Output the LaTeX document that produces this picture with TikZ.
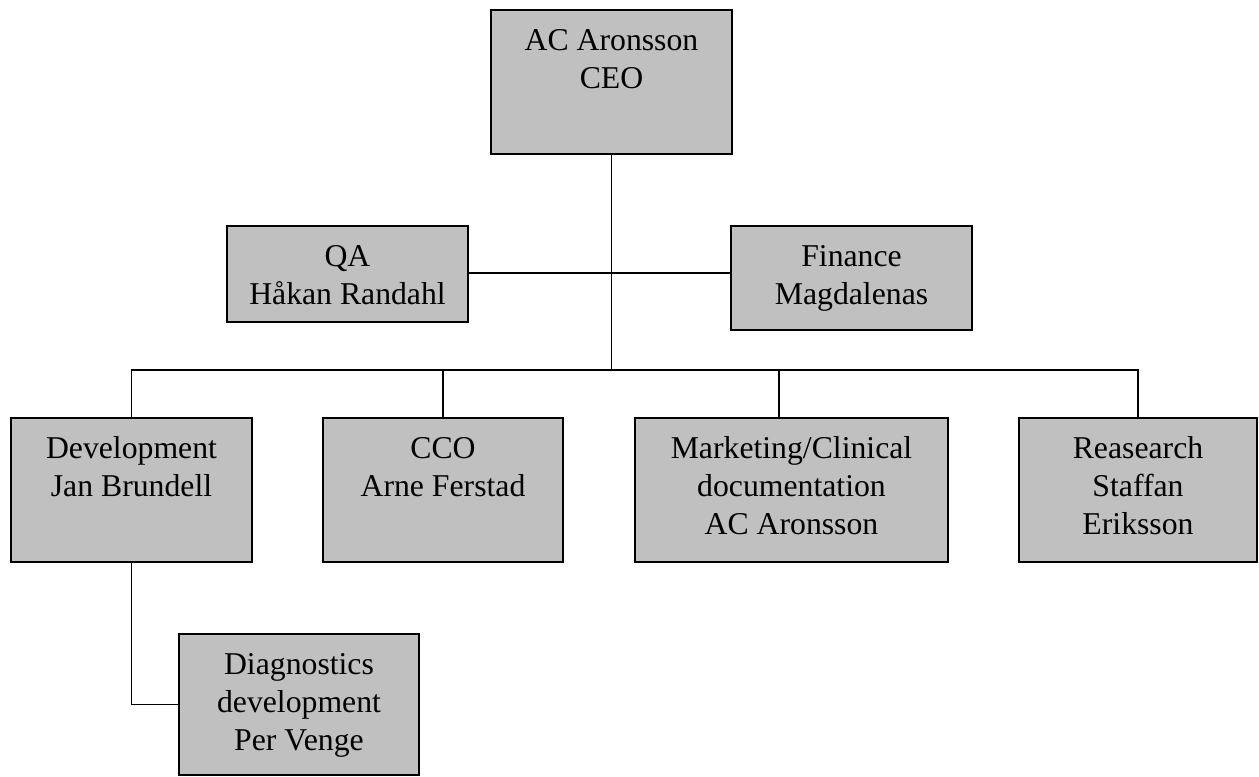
\documentclass[tikz,border=0pt]{standalone}
\usepackage{fontspec}
\setmainfont{Liberation Serif}
\newlength\pxu
\setlength\pxu{0.75pt}
\definecolor{boxgray}{RGB}{192,192,192}
\newcommand{\orgtext}[3]{\parbox[t][#2\pxu][t]{#1\pxu}{\centering\fontsize{23.8pt}{28.7pt}\selectfont\rule{0pt}{40\pxu}#3}}
\tikzset{
  orgbox/.style={draw=black, fill=boxgray, line width=1.3pt, inner sep=0pt, outer sep=0pt, anchor=north west},
  link/.style={draw=black, line width=1.3pt}
}
\begin{document}
\begin{tikzpicture}[x=0.75pt, y=-0.75pt]
\useasboundingbox (0,0) rectangle (1259,776);
\node[orgbox] (ceo) at (491,10) {\orgtext{241}{144}{AC Aronsson\\CEO}};
\node[orgbox] (qa) at (227,226) {\orgtext{241}{96}{QA\\Håkan Randahl}};
\node[orgbox] (fin) at (731,226) {\orgtext{241}{104}{Finance\\Magdalenas}};
\node[orgbox] (dev) at (11,418) {\orgtext{241}{144}{Development\\Jan Brundell}};
\node[orgbox] (cco) at (323,418) {\orgtext{240}{144}{CCO\\Arne Ferstad}};
\node[orgbox] (mkt) at (635,418) {\orgtext{313}{144}{Marketing/Clinical\\documentation\\AC Aronsson}};
\node[orgbox] (res) at (1019,418) {\orgtext{238}{144}{Reasearch\\Staffan\\Eriksson}};
\node[orgbox] (diag) at (179,634) {\orgtext{240}{141}{Diagnostics\\development\\Per Venge}};
\coordinate (bus) at (612,370);
\coordinate (mkdrop) at (779,370);
\coordinate (qay) at (0,273);
% trunk
\draw[link] (ceo.south) -- (ceo.south |- bus);
% staff line
\draw[link] (qa.east |- qay) -- (fin.west |- qay);
% bus
\draw[link] (dev.north) -- (dev.north |- bus) -- (res.north |- bus) -- (res.north);
\draw[link] (cco.north |- bus) -- (cco.north);
\draw[link] (mkdrop) -- (mkdrop |- mkt.north);
% development to diagnostics
\draw[link] (dev.south) |- (diag.west);
\end{tikzpicture}
\end{document}
